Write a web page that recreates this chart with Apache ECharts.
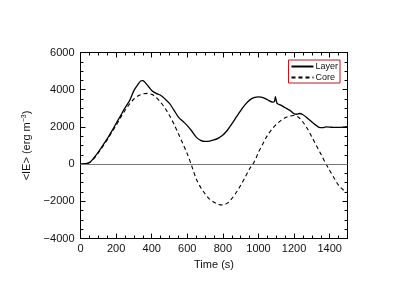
<!DOCTYPE html>
<html><head><meta charset="utf-8">
<script src="https://cdn.jsdelivr.net/npm/echarts@6/dist/echarts.min.js"></script>
<style>html,body{margin:0;padding:0;background:#fff}#c{width:415px;height:297px}</style>
</head><body><div id="c"></div>
<script>
const layerT = [0,25,50,75,100,125,150,175,200,225,250,275,300,320,340,350,360,380,400,425,450,475,500,525,550,575,600,625,650,675,700,725,750,775,800,825,850,875,900,925,950,975,1000,1025,1050,1080,1090,1095,1100,1105,1125,1150,1175,1200,1215,1230,1250,1275,1300,1320,1340,1360,1380,1400,1425,1450,1475,1500];
const layerV = [0,20,80,330,640,1000,1360,1760,2180,2600,3020,3400,3950,4250,4480,4490,4420,4200,3960,3800,3700,3500,3260,2900,2530,2300,2070,1780,1450,1280,1220,1230,1300,1400,1560,1820,2160,2520,2880,3200,3440,3570,3610,3580,3460,3330,3380,3620,3400,3260,3170,3030,2900,2700,2680,2720,2650,2470,2260,2110,1980,1960,2000,1990,1970,1975,1990,2020];
const coreT = [0,25,50,75,100,125,150,175,200,225,250,275,300,325,350,375,400,425,450,475,500,525,550,575,600,625,650,675,700,725,750,775,800,825,850,875,900,925,950,975,1000,1025,1050,1075,1100,1125,1150,1175,1200,1225,1250,1275,1300,1325,1350,1375,1400,1425,1450,1475,1500];
const coreV = [0,20,80,300,600,950,1300,1700,2080,2500,2880,3220,3500,3680,3770,3800,3750,3580,3330,3000,2610,2150,1630,1100,550,-100,-790,-1250,-1600,-1880,-2050,-2170,-2200,-2100,-1860,-1530,-1140,-700,-250,100,640,1100,1540,1870,2130,2340,2490,2580,2610,2520,2250,1900,1450,1000,550,80,-340,-750,-1140,-1380,-1540];
const xTicks = [0,200,400,600,800,1000,1200,1400];
const yTicks = [-4000,-2000,0,2000,4000,6000];
const names = ['Layer','Core'];

const font = 'Liberation Sans, Arial, sans-serif';
const chart = echarts.init(document.getElementById('c'), null, {renderer:'canvas'});
const fmt = v => String(v).replace('-', '\u2212');
const lineOn = {show:true, onZero:false, lineStyle:{color:'#000', width:1}};
const lineOff = {show:false, onZero:false};
function xAx(pos, interval, len, labels, line){
  const a = {type:'value', min:0, max:1500, interval, position:pos,
    axisLine: line?lineOn:lineOff, splitLine:{show:false},
    axisTick:{show:true, inside:true, length:len, lineStyle:{color:'#000'}},
    axisLabel:{show:false}};
  if (labels) {
    a.axisLabel = {show:true, fontFamily:font, fontSize:11, color:'#111', margin:5,
      formatter: v => xTicks.includes(v)?fmt(v):''};
    a.name = 'Time (s)'; a.nameLocation='middle'; a.nameGap=18;
    a.nameTextStyle = {fontFamily:font, fontSize:11, color:'#111'};
  }
  return a;
}
function yAx(pos, interval, len, labels, line){
  const a = {type:'value', min:-4000, max:6000, interval, position:pos,
    axisLine: line?lineOn:lineOff, splitLine:{show:false},
    axisTick:{show:true, inside:true, length:len, lineStyle:{color:'#000'}},
    axisLabel:{show:false}};
  if (labels) {
    a.axisLabel = {show:true, fontFamily:font, fontSize:11, color:'#111', margin:6,
      formatter: v => yTicks.includes(v)?fmt(v):''};
    a.name = '<IE> (erg m{s|\u22123})'; a.nameLocation='middle'; a.nameGap=40;
    a.nameTextStyle = {fontFamily:font, fontSize:11, color:'#111',
      rich:{s:{fontFamily:font, fontSize:7, color:'#111', verticalAlign:'top', padding:[0,0,6,0]}}};
  }
  return a;
}
chart.setOption({
  animation:false,
  backgroundColor:'#fff',
  grid:{left:80.5, right:67.5, top:52.5, bottom:58.5, containLabel:false},
  legend:{
    data:[{name:'Layer'},{name:'Core'}],
    right:75, top:60, orient:'vertical',
    borderColor:'#c0141c', borderWidth:1, padding:[2,2,1,2],
    itemWidth:22, itemHeight:8, itemGap:2,
    itemStyle:{opacity:0},
    textStyle:{fontFamily:font, fontSize:9, color:'#111', padding:[0,0,0,-3]},
    backgroundColor:'#fff'
  },
  xAxis:[
    xAx('bottom',200,5,true,true),
    xAx('top',200,5,false,true),
    xAx('bottom',50,3,false,false),
    xAx('top',50,3,false,false)
  ],
  yAxis:[
    yAx('left',2000,5,true,true),
    yAx('right',2000,5,false,true),
    yAx('left',500,3,false,false),
    yAx('right',500,3,false,false)
  ],
  series:[{
    name:'Layer', type:'line', symbol:'none', smooth:0.3,
    data: layerT.map((t,i)=>[t, layerV[i]]),
    lineStyle:{color:'#000', width:1.3, type:'solid'}, itemStyle:{color:'#000'},
    markLine:{silent:true, symbol:'none', label:{show:false},
      lineStyle:{color:'#777', width:1, type:'solid'}, data:[{yAxis:0}]},
    z:3
  },{
    name:'Core', type:'line', symbol:'none', smooth:0.3,
    data: coreT.map((t,i)=>[t, coreV[i]]),
    lineStyle:{color:'#000', width:1.1, type:[4,3]}, itemStyle:{color:'#000'},
    z:3
  }]
});
</script></body></html>
